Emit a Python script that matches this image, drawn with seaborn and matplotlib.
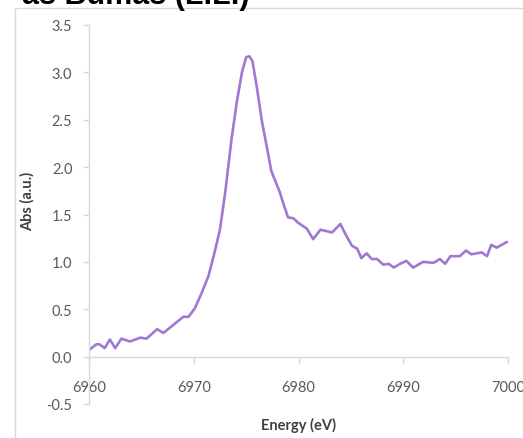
import matplotlib
matplotlib.use("Agg")
import matplotlib.pyplot as plt
from matplotlib.patches import Rectangle
import seaborn as sns
import pandas as pd

energy = [6960.0, 6960.7, 6961.0, 6961.5, 6962.0, 6962.5, 6963.1, 6963.9, 6964.9, 6965.5,
          6966.5, 6967.1, 6968.0, 6969.0, 6969.5, 6970.1, 6970.75, 6971.4, 6971.9, 6972.5,
          6973.0, 6973.6, 6974.1, 6974.6, 6975.0, 6975.3, 6975.6, 6976.0, 6976.5, 6977.0,
          6977.4, 6977.8, 6978.2, 6978.6, 6979.0, 6979.5, 6980.0, 6980.8, 6981.4, 6982.1,
          6983.2, 6984.0, 6984.4, 6985.1, 6985.6, 6986.0, 6986.5, 6987.0, 6987.5, 6988.1,
          6988.6, 6989.1, 6989.7, 6990.3, 6990.95, 6991.9, 6992.9, 6993.5, 6994.0, 6994.5,
          6995.4, 6996.0, 6996.5, 6997.5, 6998.0, 6998.4, 6998.9, 6999.4, 6999.9]
absorbance = [0.07, 0.13, 0.13, 0.09, 0.18, 0.09, 0.19, 0.16, 0.20, 0.19,
              0.29, 0.25, 0.33, 0.42, 0.42, 0.51, 0.67, 0.85, 1.06, 1.34,
              1.73, 2.29, 2.68, 3.00, 3.16, 3.17, 3.12, 2.86, 2.49, 2.20,
              1.96, 1.85, 1.74, 1.60, 1.47, 1.46, 1.41, 1.35, 1.24, 1.34,
              1.31, 1.40, 1.31, 1.17, 1.14, 1.04, 1.09, 1.03, 1.03, 0.97,
              0.98, 0.94, 0.98, 1.01, 0.94, 1.00, 0.99, 1.03, 0.98, 1.06,
              1.06, 1.12, 1.08, 1.10, 1.06, 1.18, 1.15, 1.18, 1.21]

x_ticks = [6960, 6970, 6980, 6990, 7000]
y_ticks = [-0.5, 0.0, 0.5, 1.0, 1.5, 2.0, 2.5, 3.0, 3.5]
title_text = "as Bumas (L.L.)"
x_label = "Energy (eV)"
y_label = "Abs (a.u.)"

sns.set_style("white")
plt.rcParams['font.family'] = ['Lato', 'DejaVu Sans']

W, H = 523, 439
fig = plt.figure(figsize=(W / 100, H / 100), dpi=100)
ax = fig.add_axes([89 / W, 1 - 405 / H, (508 - 89) / W, (405 - 26) / H])

df = pd.DataFrame({"Energy": energy, "Abs": absorbance})
sns.lineplot(data=df, x="Energy", y="Abs", ax=ax, color="#A078D2", linewidth=1.9)

ax.set_xlim(6960, 7000)
ax.set_ylim(-0.5, 3.5)
ax.set_xticks(x_ticks)
ax.set_xticklabels([str(t) for t in x_ticks])
ax.set_yticks(y_ticks)
ax.set_yticklabels([f"{t:.1f}" for t in y_ticks])

grey = "#D9D9D9"
for s in ["top", "right"]:
    ax.spines[s].set_visible(False)
ax.spines["bottom"].set_position(("data", 0))
ax.spines["bottom"].set_color(grey)
ax.spines["left"].set_color(grey)
ax.spines["bottom"].set_linewidth(1.0)
ax.spines["left"].set_linewidth(1.0)

ax.tick_params(axis="x", direction="out", length=5, width=1, color=grey,
               labelsize=10.5, labelcolor="#595959", pad=12, bottom=True)
ax.tick_params(axis="y", direction="out", length=4, width=1, color=grey,
               labelsize=10.5, labelcolor="#595959", pad=8, left=True)

ax.set_xlabel(x_label, fontsize=10.5, fontweight="bold", color="#404040")
ax.set_ylabel(y_label, fontsize=10.5, fontweight="bold", color="#404040")
ax.xaxis.set_label_coords(0.5, -0.034)
ax.yaxis.set_label_coords(-0.129, 0.536)

fig.add_artist(Rectangle((15 / W, -0.1), 1.2, (1 - 9 / H) + 0.1, transform=fig.transFigure,
                         fill=False, edgecolor=grey, linewidth=1.0, clip_on=False))
fig.text(250 / W, 1 - 4 / H, title_text, ha="right", va="baseline", fontsize=22,
         fontweight="bold", color="black", family=["Liberation Sans", "DejaVu Sans"])

fig.savefig("out.png", dpi=100)
